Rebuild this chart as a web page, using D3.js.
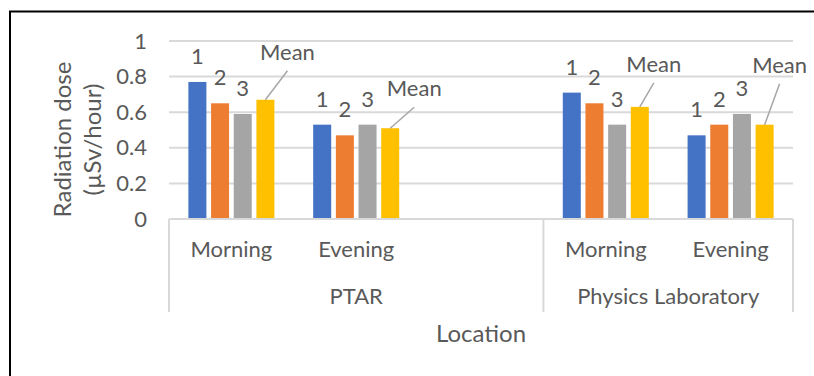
<!DOCTYPE html>
<html>
<head>
<meta charset="utf-8">
<script src="https://cdn.jsdelivr.net/npm/d3@7"></script>
<style>
  html, body { margin: 0; padding: 0; background: #fff; }
  svg { display: block; }
  text { font-family: Lato, "Noto Sans", sans-serif; fill: #595959; }
</style>
</head>
<body>
<svg id="chart" width="814" height="376"></svg>
<script>
// Category axis: inner level (time of day) and outer level (location)
const categoryTime = ["Morning", "Evening", "", "Morning", "Evening"];
const categoryLocation = ["PTAR", "PTAR", "PTAR", "Physics Laboratory", "Physics Laboratory"];
const locations = ["PTAR", "Physics Laboratory"];

// Series: three readings and their mean (µSv/hour)
const seriesNames = ["1", "2", "3", "Mean"];
const reading1 = [0.77, 0.53, null, 0.71, 0.47];
const reading2 = [0.65, 0.47, null, 0.65, 0.53];
const reading3 = [0.59, 0.53, null, 0.53, 0.59];
const meanValues = [0.67, 0.51, null, 0.63, 0.53];

const yTicks = [0, 0.2, 0.4, 0.6, 0.8, 1];
const yTickLabels = ["0", "0.2", "0.4", "0.6", "0.8", "1"];

const yTitleLines = ["Radiation dose", "(µSv/hour)"];
const xTitle = "Location";

// Styling / layout
const colors = ["#4472C4", "#ED7D31", "#A5A5A5", "#FFC000"];
// Mean label placement relative to the top of its bar: [dx, dy] of the label baseline centre
const meanLabelOffset = [[22, -40], [24, -32], [14, -35], [15, -52]];

const svg = d3.select("#chart");
const plot = { left: 169, right: 793, top: 41, bottom: 219 };

// Outer chart frame
svg.append("rect")
  .attr("x", 10).attr("y", 11.5)
  .attr("width", 830).attr("height", 400)
  .attr("fill", "none").attr("stroke", "#000").attr("stroke-width", 2);

const y = d3.scaleLinear().domain([0, 1]).range([plot.bottom, plot.top]);
const x0 = d3.scaleBand().domain(d3.range(categoryTime.length)).range([plot.left, plot.right]).padding(0);
const x1 = d3.scaleBand().domain(seriesNames).range([0, x0.bandwidth()])
  .paddingInner(0.206).paddingOuter(0.855);

// Gridlines
svg.append("g").selectAll("line").data(yTicks.filter(d => d > 0)).join("line")
  .attr("x1", plot.left).attr("x2", plot.right)
  .attr("y1", d => y(d)).attr("y2", d => y(d))
  .attr("stroke", "#d9d9d9").attr("stroke-width", 2);

// Value axis labels
const yAxis = d3.axisLeft(y).tickValues(yTicks).tickSize(0).tickPadding(0)
  .tickFormat((d, i) => yTickLabels[i]);
const yg = svg.append("g").attr("transform", `translate(147,0)`).call(yAxis);
yg.select(".domain").remove();
yg.selectAll("text").attr("font-size", 22).attr("fill", "#595959")
  .attr("font-family", "Lato, sans-serif");

// Value axis title
const yTitle = svg.append("text")
  .attr("transform", "translate(0,139.5) rotate(-90)")
  .attr("text-anchor", "middle").attr("font-size", 24);
yTitle.selectAll("tspan").data(yTitleLines).join("tspan")
  .attr("x", 0).attr("y", (d, i) => 71 + i * 30)
  .text(d => d);

// Bars
const seriesData = [reading1, reading2, reading3, meanValues];
const barRows = [];
seriesData.forEach((vals, s) => vals.forEach((v, c) => {
  if (v !== null) barRows.push({ s, c, v });
}));

svg.append("g").selectAll("rect").data(barRows).join("rect")
  .attr("x", d => x0(d.c) + x1(seriesNames[d.s]))
  .attr("width", x1.bandwidth())
  .attr("y", d => y(d.v))
  .attr("height", d => y(0) - y(d.v))
  .attr("fill", d => colors[d.s]);

// Data labels: series names above the readings
const labelG = svg.append("g").attr("font-size", 22);
labelG.selectAll("text.rd").data(barRows.filter(d => d.s < 3)).join("text")
  .attr("class", "rd")
  .attr("x", d => x0(d.c) + x1(seriesNames[d.s]) + x1.bandwidth() / 2)
  .attr("y", d => y(d.v) - 18)
  .attr("text-anchor", "middle")
  .text(d => seriesNames[d.s]);

// Mean labels with leader lines
const meanRows = barRows.filter(d => d.s === 3);
meanRows.forEach((d, i) => {
  const cx = x0(d.c) + x1(seriesNames[d.s]) + x1.bandwidth() / 2;
  const top = y(d.v);
  const [dx, dy] = meanLabelOffset[i];
  labelG.append("line")
    .attr("x1", cx).attr("y1", top)
    .attr("x2", cx + dx).attr("y2", top + dy + 11)
    .attr("stroke", "#a6a6a6").attr("stroke-width", 1.5);
  labelG.append("text")
    .attr("x", cx + dx).attr("y", top + dy)
    .attr("text-anchor", "middle")
    .text(seriesNames[d.s]);
});

// Category axis
const axisG = svg.append("g").attr("stroke", "#d9d9d9").attr("stroke-width", 2);
axisG.append("line").attr("x1", plot.left).attr("x2", plot.right)
  .attr("y1", plot.bottom).attr("y2", plot.bottom);

const groupBounds = locations.map(loc => {
  const idx = d3.range(categoryLocation.length).filter(i => categoryLocation[i] === loc);
  return { loc, x0: x0(idx[0]), x1: x0(idx[idx.length - 1]) + x0.bandwidth() };
});
const separators = [plot.left, ...groupBounds.map(g => g.x1)];
axisG.selectAll("line.sep").data(separators).join("line")
  .attr("class", "sep")
  .attr("x1", d => d).attr("x2", d => d)
  .attr("y1", plot.bottom).attr("y2", 312);

svg.append("g").selectAll("text").data(categoryTime).join("text")
  .attr("x", (d, i) => x0(i) + x0.bandwidth() / 2)
  .attr("y", 257)
  .attr("text-anchor", "middle").attr("font-size", 22)
  .text(d => d);

svg.append("g").selectAll("text").data(groupBounds).join("text")
  .attr("x", d => (d.x0 + d.x1) / 2)
  .attr("y", 304)
  .attr("text-anchor", "middle").attr("font-size", 22)
  .text(d => d.loc);

svg.append("text")
  .attr("x", (plot.left + plot.right) / 2).attr("y", 342)
  .attr("text-anchor", "middle").attr("font-size", 24)
  .text(xTitle);
</script>
</body>
</html>
